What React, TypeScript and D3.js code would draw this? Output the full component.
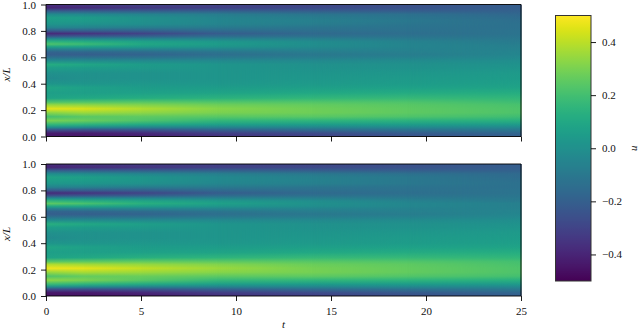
import React, { useEffect, useRef } from "react";
import * as d3 from "d3";

const WIDTH = 640;
const HEIGHT = 331;
const FONT = "'Liberation Serif', serif";

const PLOT = { left: 46, right: 521 };
const PANELS = [
  { id: "top", y0: 136.5, y1: 4.5 },
  { id: "bottom", y0: 296, y1: 164 },
];
const BAR = { left: 555.5, right: 591, top: 15.5, bottom: 281 };

const T_TICKS = [0, 5, 10, 15, 20, 25];
const X_TICKS = [0, 0.2, 0.4, 0.6, 0.8, 1];
const U_TICKS = [-0.4, -0.2, 0, 0.2, 0.4];

// heatmap samples
const TIMES = [0, 2, 5, 9, 14, 19, 25];
const POSITIONS = [
  1, 0.975, 0.95, 0.925, 0.9, 0.875, 0.85, 0.825, 0.8, 0.78, 0.76, 0.74, 0.72, 0.7, 0.68, 0.66,
  0.64, 0.62, 0.6, 0.575, 0.545, 0.52, 0.48, 0.44, 0.4, 0.37, 0.33, 0.29, 0.26, 0.24, 0.21, 0.18,
  0.15, 0.12, 0.09, 0.07, 0.05, 0.025, 0,
];

const TOP_T0 = [-.36,-.40,-.2,-.02,.06,.05,.02,-.05,-.22,-.38,-.25,-.02,.14,.22,.08,-.08,-.18,-.2,-.14,-.02,.12,.06,0,-.02,.02,.09,.06,.08,.22,.34,.46,.32,.2,.3,.16,0,-.25,-.42,-.44];
const TOP_T2 = [-.33,-.38,-.2,-.03,.05,.04,.01,-.06,-.21,-.35,-.23,-.03,.11,.18,.07,-.07,-.17,-.2,-.14,-.02,.09,.05,.01,0,.02,.07,.06,.1,.23,.33,.44,.35,.24,.27,.14,-.02,-.26,-.42,-.44];
const TOP_T5 = [-.3,-.34,-.2,-.05,0,0,-.01,-.08,-.2,-.3,-.2,-.04,.07,.1,.05,-.06,-.15,-.18,-.13,-.03,.05,.04,.01,.01,.03,.05,.07,.12,.24,.31,.38,.33,.25,.22,.1,-.05,-.24,-.38,-.42];
const TOP_T9 = [-.3,-.31,-.19,-.08,-.05,-.04,-.05,-.09,-.16,-.21,-.15,-.05,.03,.05,.02,-.05,-.11,-.14,-.1,-.03,.02,.02,.02,.02,.03,.05,.08,.14,.23,.28,.32,.3,.24,.16,.06,-.05,-.19,-.31,-.36];
const TOP_T14 = [-.29,-.28,-.2,-.11,-.08,-.07,-.08,-.11,-.14,-.16,-.13,-.07,-.02,-.01,-.02,-.05,-.08,-.1,-.08,-.03,0,.01,.02,.03,.04,.06,.1,.16,.23,.26,.28,.28,.24,.15,.05,-.04,-.15,-.27,-.31];
const TOP_T19 = [-.25,-.25,-.2,-.13,-.11,-.1,-.11,-.12,-.13,-.14,-.12,-.09,-.06,-.05,-.05,-.06,-.07,-.08,-.06,-.02,0,.01,.03,.04,.05,.07,.11,.17,.22,.24,.25,.25,.22,.14,.05,-.03,-.12,-.21,-.25];
const TOP_T25 = [-.2,-.2,-.19,-.17,-.15,-.14,-.13,-.13,-.12,-.12,-.11,-.1,-.09,-.08,-.07,-.06,-.05,-.04,-.03,-.01,.01,.02,.04,.05,.06,.08,.12,.16,.19,.21,.22,.22,.19,.13,.04,-.03,-.1,-.17,-.2];

const BOT_T0 = [-.37,-.40,-.2,-.01,.08,.06,.03,-.05,-.22,-.38,-.25,-.01,.16,.25,.1,-.08,-.18,-.2,-.14,-.02,.13,.06,0,-.02,.02,.09,.06,.08,.24,.38,.48,.34,.22,.33,.18,0,-.27,-.44,-.45];
const BOT_T2 = [-.34,-.38,-.2,-.02,.06,.05,.02,-.06,-.21,-.35,-.23,-.02,.13,.21,.09,-.07,-.17,-.2,-.14,-.02,.1,.05,.01,0,.02,.07,.06,.1,.25,.36,.46,.37,.26,.3,.15,-.02,-.27,-.43,-.45];
const BOT_T5 = [-.32,-.35,-.2,-.04,.02,.02,0,-.08,-.2,-.3,-.2,-.03,.09,.13,.06,-.06,-.15,-.18,-.13,-.03,.06,.04,.01,.01,.03,.05,.07,.13,.26,.34,.41,.35,.27,.24,.11,-.05,-.25,-.39,-.43];
const BOT_T9 = [-.31,-.31,-.19,-.07,-.03,-.03,-.04,-.09,-.16,-.21,-.15,-.05,.04,.07,.03,-.05,-.11,-.14,-.1,-.03,.02,.02,.02,.02,.03,.05,.08,.15,.25,.31,.35,.32,.25,.17,.06,-.05,-.2,-.32,-.37];
const BOT_T14 = [-.29,-.28,-.2,-.1,-.07,-.06,-.07,-.11,-.14,-.16,-.13,-.07,-.01,0,-.01,-.05,-.08,-.1,-.08,-.03,0,.01,.02,.03,.04,.06,.1,.17,.24,.27,.29,.29,.25,.16,.05,-.04,-.16,-.27,-.32];
const BOT_T19 = [-.25,-.25,-.2,-.13,-.1,-.1,-.1,-.12,-.13,-.14,-.12,-.09,-.06,-.04,-.04,-.06,-.07,-.08,-.06,-.02,0,.01,.03,.04,.05,.07,.11,.17,.23,.25,.26,.26,.23,.15,.05,-.03,-.13,-.22,-.26];
const BOT_T25 = [-.2,-.2,-.19,-.16,-.15,-.14,-.13,-.13,-.12,-.12,-.11,-.1,-.09,-.07,-.07,-.06,-.05,-.04,-.03,-.01,.01,.02,.04,.05,.06,.08,.12,.16,.2,.21,.22,.22,.2,.13,.04,-.03,-.1,-.17,-.21];

const FIELDS: Record<string, number[][]> = {
  top: [TOP_T0, TOP_T2, TOP_T5, TOP_T9, TOP_T14, TOP_T19, TOP_T25],
  bottom: [BOT_T0, BOT_T2, BOT_T5, BOT_T9, BOT_T14, BOT_T19, BOT_T25],
};

const tScale = d3.scaleLinear().domain([0, 25]).range([PLOT.left, PLOT.right]);
const uScale = d3.scaleLinear().domain([-0.5, 0.5]).range([BAR.bottom, BAR.top]);
const colour = d3.scaleSequential(d3.interpolateViridis).domain([-0.5, 0.5]);
const tickFormat = (d: d3.NumberValue) => d3.format(".1f")(d).replace("-", "\u2212");

const Axis = ({ axis, transform, hideLabels }: { axis: any; transform: string; hideLabels?: boolean }) => {
  const ref = useRef<SVGGElement>(null);
  useEffect(() => {
    const g = d3.select(ref.current!);
    g.call(axis);
    g.select(".domain").remove();
    g.selectAll("line").attr("stroke", "#000").attr("stroke-width", 0.9);
    g.selectAll("text")
      .attr("font-family", FONT)
      .attr("font-size", 11)
      .attr("fill", "#111")
      .style("display", hideLabels ? "none" : null);
  }, []);
  return <g ref={ref} transform={transform} />;
};

const Heatmap = ({ id, y0, y1 }: { id: string; y0: number; y1: number }) => {
  const columns = FIELDS[id];
  const xScale = d3.scaleLinear().domain([0, 1]).range([y0, y1]);
  return (
    <g>
      <defs>
        {columns.map((col, i) => (
          <linearGradient
            key={i}
            id={`${id}-col-${i}`}
            gradientUnits="userSpaceOnUse"
            x1={0}
            x2={0}
            y1={xScale(0)}
            y2={xScale(1)}
          >
            {POSITIONS.map((p, j) => ({ p, u: col[j] }))
              .reverse()
              .map(({ p, u }) => (
                <stop key={p} offset={p} stopColor={colour(u)} />
              ))}
          </linearGradient>
        ))}
      </defs>
      {/* each time sample fades into the next one */}
      {TIMES.slice(0, -1).map((t, i) => {
        const x = tScale(t);
        const w = tScale(TIMES[i + 1]) - x;
        return (
          <g key={t}>
            <rect x={x} y={y1} width={w + 0.5} height={y0 - y1} fill={`url(#${id}-col-${i})`} />
            <rect
              x={x}
              y={y1}
              width={w + 0.5}
              height={y0 - y1}
              fill={`url(#${id}-col-${i + 1})`}
              mask="url(#fade)"
            />
          </g>
        );
      })}
      <path
        d={`M${PLOT.left},${y1}H${PLOT.right}V${y0}H${PLOT.left}Z`}
        fill="none"
        stroke="#000"
        strokeWidth={0.9}
      />
      <Axis
        axis={d3.axisLeft(xScale).tickValues(X_TICKS).tickSize(5).tickPadding(5).tickFormat(tickFormat)}
        transform={`translate(${PLOT.left},0)`}
      />
      <Axis
        axis={d3.axisBottom(tScale).tickValues(T_TICKS).tickSize(5).tickPadding(6).tickFormat(d3.format("d"))}
        transform={`translate(0,${y0})`}
        hideLabels={id === "top"}
      />
      <text
        transform={`translate(10,${(y0 + y1) / 2 + 4}) rotate(-90)`}
        textAnchor="middle"
        fontFamily={FONT}
        fontStyle="italic"
        fontSize={11}
        fill="#111"
      >
        x/L
      </text>
    </g>
  );
};

export default function App() {
  const barLevels = d3.range(256).map((i) => -0.5 + i / 255);
  return (
    <svg
      width={WIDTH}
      height={HEIGHT}
      style={{ position: "absolute", left: 0, top: 0, background: "#fff" }}
    >
      <defs>
        <linearGradient id="fade-ramp">
          <stop offset={0} stopColor="#fff" stopOpacity={0} />
          <stop offset={1} stopColor="#fff" stopOpacity={1} />
        </linearGradient>
        <mask id="fade" maskContentUnits="objectBoundingBox" x="0" y="0" width="1" height="1">
          <rect width={1} height={1} fill="url(#fade-ramp)" />
        </mask>
        <linearGradient id="bar-ramp" x1={0} x2={0} y1={1} y2={0}>
          {barLevels.map((u, i) => (
            <stop key={i} offset={i / 255} stopColor={colour(u)} />
          ))}
        </linearGradient>
      </defs>
      {PANELS.map((p) => (
        <Heatmap key={p.id} {...p} />
      ))}
      <text
        x={tScale(12.5)}
        y={328}
        textAnchor="middle"
        fontFamily={FONT}
        fontStyle="italic"
        fontSize={11}
        fill="#111"
      >
        t
      </text>
      <rect
        x={BAR.left}
        y={BAR.top}
        width={BAR.right - BAR.left}
        height={BAR.bottom - BAR.top}
        fill="url(#bar-ramp)"
        stroke="#333"
        strokeWidth={1}
      />
      <Axis
        axis={d3.axisRight(uScale).tickValues(U_TICKS).tickSize(5).tickPadding(6).tickFormat(tickFormat)}
        transform={`translate(${BAR.right},0)`}
      />
      <text
        transform={`translate(637,${uScale(0)}) rotate(-90)`}
        textAnchor="middle"
        fontFamily={FONT}
        fontStyle="italic"
        fontSize={11}
        fill="#111"
      >
        u
      </text>
    </svg>
  );
}
